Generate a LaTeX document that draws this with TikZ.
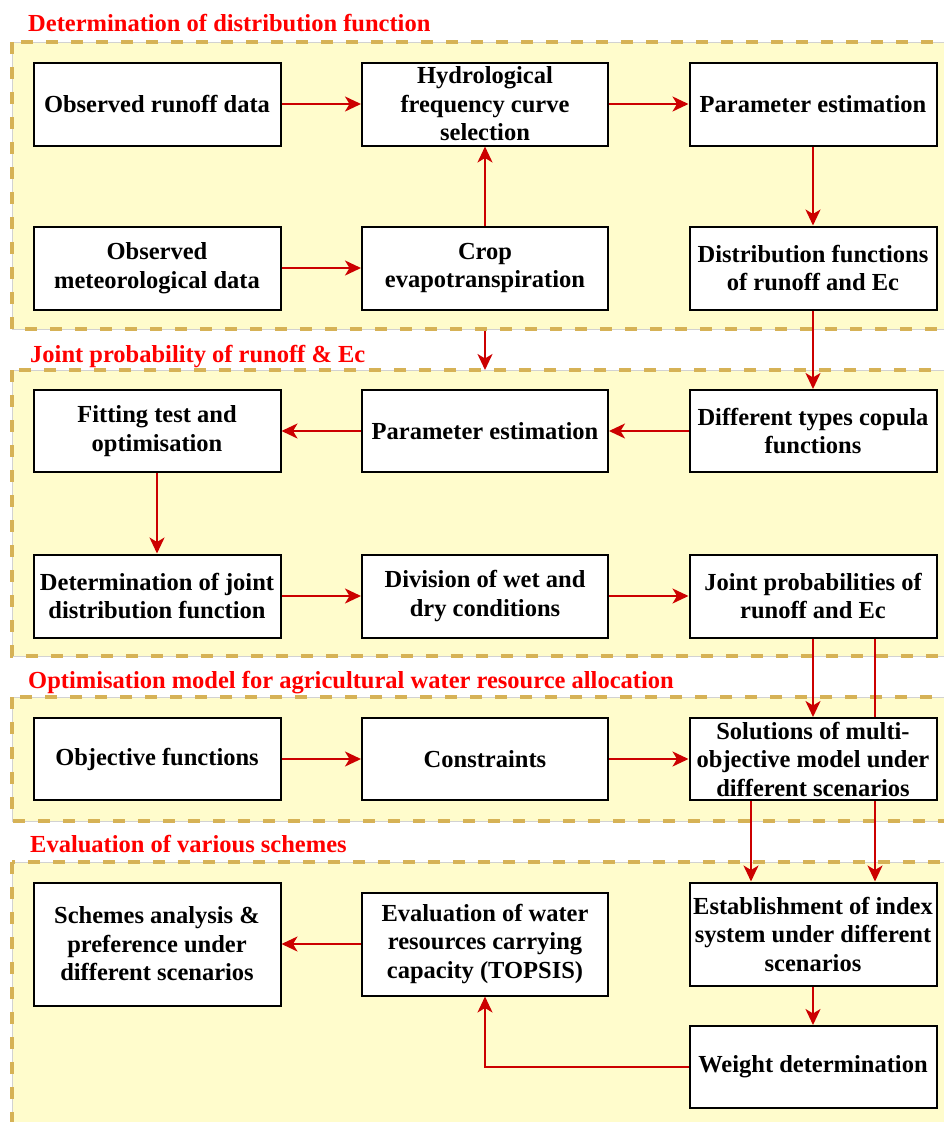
\documentclass[tikz,border=0pt]{standalone}
\usepackage{fontspec}
\setmainfont{Liberation Serif}
\usetikzlibrary{arrows.meta}
\definecolor{secfill}{RGB}{255,252,204}
\definecolor{secdash}{RGB}{214,178,86}
\definecolor{arrred}{RGB}{204,0,0}
\definecolor{titred}{RGB}{255,0,0}
\begin{document}
\begin{tikzpicture}[x=1pt,y=-1pt,
  box/.style={draw=black, line width=2pt, fill=white, align=center, inner xsep=1pt, inner ysep=0pt,
    font=\bfseries\fontsize{24.5}{28.5}\selectfont},
  conn/.style={draw=arrred, line width=2pt, -{Stealth[length=16pt,width=15pt,inset=4.5pt]}},
  plainconn/.style={draw=arrred, line width=2pt},
  sectitle/.style={anchor=base west, text=titred, inner sep=0pt,
    font=\bfseries\fontsize{24.5}{28}\selectfont},
  secbg/.style={fill=secfill, draw=gray!35, line width=0.6pt},
  secborder/.style={draw=secdash, line width=4pt, dash pattern=on 12pt off 13pt}
]
\useasboundingbox (0,0) rectangle (944,1122);
\fill[white] (0,0) rectangle (944,1122);

% sections
\path[secbg] (12,42) rectangle (948,329);
\draw[secborder] (12,42) rectangle (948,329);
\path[secbg] (12,370) rectangle (948,656);
\draw[secborder] (12,370) rectangle (948,656);
\path[secbg] (12,697) rectangle (948,821);
\draw[secborder] (12,697) rectangle (948,821);
\path[secbg] (12,862) rectangle (948,1140);
\draw[secborder] (12,862) rectangle (948,1140);

% titles
\node[sectitle] (t1) at (28,31) {Determination of distribution function};
\node[sectitle] (t2) at (30,362) {Joint probability of runoff \& Ec};
\node[sectitle] (t3) at (28,688) {Optimisation model for agricultural water resource allocation};
\node[sectitle] (t4) at (30,852) {Evaluation of various schemes};

% row 1-2
\node[box, minimum width=247pt, minimum height=83pt] (n11) at (157,104) {Observed runoff data};
\node[box, minimum width=246pt, minimum height=83pt] (n12) at (485,104) {Hydrological\\frequency curve\\selection};
\node[box, minimum width=247pt, minimum height=83pt] (n13) at (813,104) {Parameter estimation};
\node[box, minimum width=247pt, minimum height=83pt] (n21) at (157,268) {Observed\\meteorological data};
\node[box, minimum width=246pt, minimum height=83pt] (n22) at (485,268) {Crop\\evapotranspiration};
\node[box, minimum width=247pt, minimum height=83pt] (n23) at (813,268) {Distribution functions\\of runoff and Ec};
% row 3-4
\node[box, minimum width=247pt, minimum height=82pt] (n31) at (157,431) {Fitting test and\\optimisation};
\node[box, minimum width=246pt, minimum height=82pt] (n32) at (485,431) {Parameter estimation};
\node[box, minimum width=247pt, minimum height=82pt] (n33) at (813,431) {Different types copula\\functions};
\node[box, minimum width=247pt, minimum height=83pt] (n41) at (157,596) {Determination of joint\\distribution function};
\node[box, minimum width=246pt, minimum height=83pt] (n42) at (485,596) {Division of wet and\\dry conditions};
\node[box, minimum width=247pt, minimum height=83pt] (n43) at (813,596) {Joint probabilities of\\runoff and Ec};
% row 5
\node[box, minimum width=247pt, minimum height=82pt] (n51) at (157,759) {Objective functions};
\node[box, minimum width=246pt, minimum height=82pt] (n52) at (485,759) {Constraints};
\node[box, minimum width=247pt, minimum height=82pt] (n53) at (813,759) {Solutions of multi-\\objective model under\\different scenarios};
% row 6-7
\node[box, minimum width=247pt, minimum height=123pt] (n61) at (157,944) {Schemes analysis \&\\preference under\\different scenarios};
\node[box, minimum width=246pt, minimum height=103pt] (n62) at (485,944) {Evaluation of water\\resources carrying\\capacity (TOPSIS)};
\node[box, minimum width=247pt, minimum height=103pt] (n63) at (813,934) {Establishment of index\\system under different\\scenarios};
\node[box, minimum width=247pt, minimum height=82pt] (n73) at (813,1067) {Weight determination};

\coordinate (s1b) at (485,331);
\coordinate (s2t) at (485,370);

% connectors
\draw[conn] (n11) -- (n12);
\draw[conn] (n12) -- (n13);
\draw[conn] (n22) -- (n12);
\draw[conn] (n21) -- (n22);
\draw[conn] (n13) -- (n23);
\draw[conn] (n23) -- (n33);
\draw[conn] (s1b) -- (s2t);
\draw[conn] (n33) -- (n32);
\draw[conn] (n32) -- (n31);
\draw[conn] (n31) -- (n41);
\draw[conn] (n41) -- (n42);
\draw[conn] (n42) -- (n43);
\draw[conn] (n43) -- (n53);
\draw[plainconn] ([xshift=62pt]n43.south) -- ([xshift=62pt]n53.north);
\draw[conn] (n51) -- (n52);
\draw[conn] (n52) -- (n53);
\draw[conn] ([xshift=-62pt]n53.south) -- ([xshift=-62pt]n63.north);
\draw[conn] ([xshift=62pt]n53.south) -- ([xshift=62pt]n63.north);
\draw[conn] (n63) -- (n73);
\draw[conn] (n73.west) -| (n62.south);
\draw[conn] (n62) -- (n61);
\end{tikzpicture}
\end{document}
